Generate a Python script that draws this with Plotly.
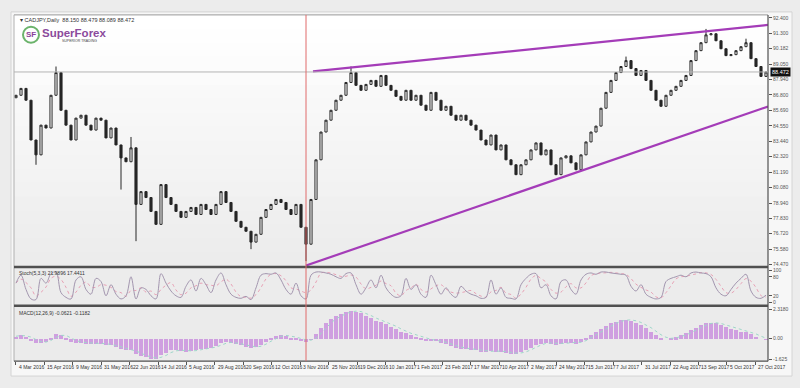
import numpy as np
import pandas as pd
import plotly.graph_objects as go

W, H = 800, 388

header_text = "▾ CADJPY,Daily  88.150 88.479 88.089 88.472"
stoch_label = "Stoch(5,3,3) 21.9896 17.4411"
macd_label = "MACD(12,26,9) -0.0621 -0.1182"
last_price = 88.472

# closes sampled along the chart (one candle per ~3 daily bars)
closes = [86.78, 87.28, 86.42, 83.53, 82.45, 84.61, 84.40, 86.78, 88.43, 85.69,
          84.61, 83.53, 85.12, 85.33, 84.61, 84.25, 85.12, 84.97, 83.68, 84.40,
          83.17, 82.23, 81.95, 82.96, 78.85, 79.78, 79.35, 78.34, 77.40, 80.29,
          79.35, 78.85, 78.34, 77.91, 78.34, 78.63, 78.12, 78.85, 78.48, 78.12,
          78.85, 79.78, 78.99, 78.34, 77.62, 77.19, 76.90, 76.11, 76.68, 77.91,
          78.48, 78.85, 79.21, 78.99, 78.48, 78.12, 78.85, 77.19, 75.96, 79.21,
          82.09, 84.11, 84.97, 85.69, 86.42, 86.78, 87.71, 88.43, 87.50, 87.14,
          87.57, 87.86, 87.43, 88.22, 87.50, 87.14, 86.70, 86.42, 87.14, 86.42,
          86.78, 86.06, 85.69, 86.99, 86.42, 85.69, 85.98, 85.33, 84.97, 85.33,
          84.97, 84.61, 84.25, 83.53, 83.17, 83.89, 82.81, 83.17, 82.09, 81.73,
          81.01, 81.73, 82.09, 82.81, 83.32, 82.45, 82.81, 81.73, 81.01, 82.23,
          82.38, 81.87, 81.37, 82.45, 83.39, 84.11, 84.54, 85.84, 86.99, 87.86,
          88.43, 88.87, 89.30, 88.72, 88.22, 88.58, 87.86, 87.14, 86.42, 85.98,
          86.78, 87.14, 87.43, 87.86, 88.22, 89.30, 90.02, 90.60, 91.17, 91.25,
          90.74, 90.16, 89.66, 89.73, 90.02, 90.31, 90.60, 89.44, 88.87, 88.15,
          88.47]
first_open = 86.60

# notable wick extremes (candle index -> price)
spike_high = {8: 88.87, 23: 83.75, 67: 88.87, 122: 89.59, 138: 91.60, 146: 90.89}
spike_low = {4: 81.73, 21: 79.93, 24: 76.18, 47: 75.60, 58: 74.73}

stoch = [60, 85, 40, 10, 8, 75, 60, 90, 95, 30,
         15, 10, 70, 80, 40, 25, 75, 65, 20, 55,
         25, 10, 20, 80, 10, 45, 40, 20, 10, 90,
         60, 35, 20, 15, 50, 70, 35, 75, 55, 30,
         70, 92, 55, 25, 15, 12, 18, 8, 45, 85,
         90, 88, 92, 70, 40, 25, 60, 20, 10, 85,
         95, 95, 92, 88, 80, 75, 90, 92, 55, 25,
         45, 70, 45, 85, 45, 25, 15, 20, 75, 40,
         55, 25, 15, 85, 55, 25, 45, 25, 15, 50,
         35, 25, 20, 12, 15, 70, 25, 45, 15, 12,
         10, 55, 75, 88, 90, 45, 55, 20, 10, 65,
         70, 40, 25, 70, 88, 92, 88, 95, 95, 92,
         90, 88, 85, 50, 35, 55, 25, 15, 10, 15,
         65, 75, 80, 85, 80, 92, 95, 92, 90, 80,
         45, 25, 20, 40, 60, 75, 88, 35, 15, 12,
         22]

macd = [0.2, 0.3, 0.2, -0.1, -0.3, -0.3, -0.2, 0.1, 0.4, 0.3,
        0.1, -0.2, -0.3, -0.3, -0.35, -0.4, -0.35, -0.35, -0.5, -0.5,
        -0.6, -0.8, -0.9, -0.85, -1.2, -1.35, -1.45, -1.55, -1.6, -1.3,
        -1.1, -0.9, -0.9, -0.95, -1.0, -0.95, -0.9, -0.8, -0.75, -0.7,
        -0.55, -0.3, -0.25, -0.3, -0.4, -0.5, -0.6, -0.7, -0.65, -0.45,
        -0.2, 0.05, 0.25, 0.3, 0.25, 0.1, 0.05, -0.1, -0.2, -0.05,
        0.4, 0.9, 1.3, 1.6, 1.85, 2.0, 2.15, 2.25, 2.2, 2.05,
        1.85, 1.65, 1.45, 1.35, 1.2, 1.0, 0.8, 0.55, 0.45, 0.3,
        0.2, 0.05, -0.1, -0.1, -0.15, -0.3, -0.4, -0.55, -0.7, -0.75,
        -0.8, -0.85, -0.9, -1.0, -1.05, -0.95, -1.0, -1.0, -1.1, -1.15,
        -1.2, -1.05, -0.9, -0.7, -0.45, -0.35, -0.3, -0.35, -0.45, -0.35,
        -0.3, -0.3, -0.35, -0.2, 0.1, 0.35, 0.55, 0.8, 1.05, 1.25,
        1.4, 1.5, 1.55, 1.45, 1.3, 1.15, 0.9, 0.6, 0.3, 0.05,
        0.0, 0.05, 0.15, 0.3, 0.45, 0.7, 0.9, 1.1, 1.25, 1.3,
        1.25, 1.1, 0.95, 0.8, 0.7, 0.6, 0.55, 0.4, 0.2, 0.0,
        -0.06]

date_labels = ["4 Mar 2016", "15 Apr 2016", "9 May 2016", "31 May 2016", "22 Jun 2016",
               "14 Jul 2016", "5 Aug 2016", "29 Aug 2016", "20 Sep 2016", "12 Oct 2016",
               "3 Nov 2016", "25 Nov 2016", "19 Dec 2016", "10 Jan 2017", "1 Feb 2017",
               "23 Feb 2017", "17 Mar 2017", "10 Apr 2017", "2 May 2017", "24 May 2017",
               "15 Jun 2017", "7 Jul 2017", "31 Jul 2017", "22 Aug 2017", "13 Sep 2017",
               "5 Oct 2017", "27 Oct 2017"]
DAYS_PER_CANDLE = 2.8125
DAYS_PER_LABEL = 16

price_ticks = [92.400, 91.300, 90.182, 89.050, 87.940, 86.800, 85.690, 84.550, 83.440,
               82.320, 81.190, 80.080, 78.940, 77.830, 76.720, 75.580, 74.470]
stoch_ticks = [100, 80, 20, 0]
macd_ticks = [2.318, 0.0, -1.625]
macd_ticktext = ["2.3180", "0.00", "-1.625"]

# trend channel anchors (candle index, price)
upper_x, upper_y = [59.4, 150.4], [88.51, 91.89]
lower_x, lower_y = [58.0, 150.4], [74.41, 85.96]
marker_candle = 58  # vertical marker (3 Nov 2016)

# ---------------------------------------------------------------
n = len(closes)
xs = np.arange(n)
opens = [first_open] + closes[:-1]
highs = [max(o, c) for o, c in zip(opens, closes)]
lows = [min(o, c) for o, c in zip(opens, closes)]
for i, v in spike_high.items():
    highs[i] = max(highs[i], v)
for i, v in spike_low.items():
    lows[i] = min(lows[i], v)
stoch_sig = pd.Series(stoch).rolling(3, min_periods=1).mean()
macd_sig = pd.Series(macd).rolling(3, min_periods=1).mean()

XR = [-0.4, 150.4]
def px(x):
    return x / W
def py(y):
    return 1 - y / H

XD = [px(14), px(768)]
FONT = "Liberation Sans, Arial, sans-serif"

fig = go.Figure()
fig.add_trace(go.Candlestick(
    x=xs, open=opens, high=highs, low=lows, close=closes,
    increasing=dict(line=dict(color="#262626", width=1), fillcolor="#ffffff"),
    decreasing=dict(line=dict(color="#262626", width=1), fillcolor="#262626"),
    whiskerwidth=0, showlegend=False, hoverinfo="skip", xaxis="x", yaxis="y"))
fig.add_trace(go.Scatter(x=upper_x, y=upper_y, mode="lines",
                         line=dict(color="#a43cb8", width=2.2), showlegend=False,
                         xaxis="x", yaxis="y"))
fig.add_trace(go.Scatter(x=lower_x, y=lower_y, mode="lines",
                         line=dict(color="#a43cb8", width=2.2), showlegend=False,
                         xaxis="x", yaxis="y"))
# stochastic
fig.add_trace(go.Scatter(x=xs, y=stoch_sig, mode="lines",
                         line=dict(color="#e7a0b4", width=1, dash="dot", shape="spline"),
                         showlegend=False, xaxis="x2", yaxis="y2"))
fig.add_trace(go.Scatter(x=xs, y=stoch, mode="lines",
                         line=dict(color="#a295ae", width=1, shape="spline"),
                         showlegend=False, xaxis="x2", yaxis="y2"))
# macd
fig.add_trace(go.Bar(x=xs, y=macd, width=0.7, marker=dict(color="#cf9fe0", line=dict(width=0)),
                     showlegend=False, xaxis="x3", yaxis="y3"))
fig.add_trace(go.Scatter(x=xs, y=macd_sig, mode="lines",
                         line=dict(color="#9fd6c9", width=1, dash="dot"),
                         showlegend=False, xaxis="x3", yaxis="y3"))

shapes = []
# outer frame
shapes.append(dict(type="rect", xref="paper", yref="paper", x0=px(11), x1=px(792),
                   y0=py(378), y1=py(11), fillcolor="#f7f7f7",
                   line=dict(color="#d4d4d4", width=1), layer="below"))
# gradient in main panel
steps = 18
for k in range(steps):
    t = k / (steps - 1)
    c = int(round(255 - 19 * t))
    y0 = 14 + (267 - 14) * k / steps
    y1 = 14 + (267 - 14) * (k + 1) / steps
    shapes.append(dict(type="rect", xref="paper", yref="paper", x0=px(14), x1=px(768),
                       y0=py(y1 + 0.5), y1=py(y0), fillcolor=f"rgb({c},{c},{c})",
                       line=dict(width=0), layer="below"))
shapes.append(dict(type="rect", xref="paper", yref="paper", x0=px(14), x1=px(768),
                   y0=py(306), y1=py(268), fillcolor="#ececec", line=dict(width=0), layer="below"))
shapes.append(dict(type="rect", xref="paper", yref="paper", x0=px(14), x1=px(768),
                   y0=py(363), y1=py(307), fillcolor="#ebebeb", line=dict(width=0), layer="below"))
# borders / separators
shapes.append(dict(type="line", xref="paper", yref="paper", x0=px(14), x1=px(768),
                   y0=py(14), y1=py(14), line=dict(color="#9a9a9a", width=1)))
shapes.append(dict(type="line", xref="paper", yref="paper", x0=px(14), x1=px(14),
                   y0=py(363), y1=py(14), line=dict(color="#b0b0b0", width=1)))
for yy in (268, 307):
    shapes.append(dict(type="line", xref="paper", yref="paper", x0=px(14), x1=px(768),
                       y0=py(yy), y1=py(yy), line=dict(color="#505050", width=2.5)))
shapes.append(dict(type="line", xref="paper", yref="paper", x0=px(14), x1=px(768),
                   y0=py(363), y1=py(363), line=dict(color="#505050", width=1.2)))
shapes.append(dict(type="line", xref="paper", yref="paper", x0=px(768), x1=px(768),
                   y0=py(363), y1=py(14), line=dict(color="#505050", width=1.2)))
# last price line
shapes.append(dict(type="line", xref="x", yref="y", x0=XR[0], x1=XR[1],
                   y0=last_price, y1=last_price, line=dict(color="#b4b4b4", width=1)))
# vertical marker
shapes.append(dict(type="line", xref="x", yref="paper", x0=marker_candle, x1=marker_candle,
                   y0=py(363), y1=py(14), line=dict(color="#e06a6a", width=1)))
# logo circle
shapes.append(dict(type="circle", xref="paper", yref="paper", x0=px(23), x1=px(39),
                   y0=py(42), y1=py(26), line=dict(color="#6bb36b", width=2)))

annotations = []
def ann(text, x, y, size, color="#333", xanchor="left", **kw):
    annotations.append(dict(text=text, x=px(x), y=py(y), xref="paper", yref="paper",
                            xanchor=xanchor, yanchor="middle", showarrow=False,
                            font=dict(family=FONT, size=size, color=color), **kw))

ann(header_text, 18, 19, 5.5, "#333")
ann("<b>SF</b>", 31, 34, 8, "#8a3f9a", xanchor="center")
ann("<b>SuperForex</b>", 40, 32.5, 11.5, "#8b4a9c")
ann("SUPERIOR TRADING", 60, 40.5, 3.5, "#444")
ann(stoch_label, 17, 274, 5, "#333")
ann(macd_label, 17, 314, 5, "#333")

tick_pos = [(1 + DAYS_PER_LABEL * k) / DAYS_PER_CANDLE - 0.4 for k in range(len(date_labels))]
for pos, lab in zip(tick_pos, date_labels):
    annotations.append(dict(text=lab, x=pos, y=py(368.5), xref="x3", yref="paper",
                            xanchor="left", yanchor="middle", xshift=1, showarrow=False,
                            font=dict(family=FONT, size=5, color="#333")))
annotations.append(dict(text=f"{last_price:.3f}", x=px(769.5), y=last_price, xref="paper",
                        yref="y", xanchor="left", yanchor="middle", showarrow=False,
                        bgcolor="#111111", borderpad=1,
                        font=dict(family=FONT, size=5.5, color="#ffffff")))

axis_common = dict(showgrid=False, zeroline=False, showline=False, domain=XD, range=XR)
ytick_font = dict(family=FONT, size=5, color="#555")

fig.update_layout(
    width=W, height=H, margin=dict(l=0, r=0, t=0, b=0),
    paper_bgcolor="#ececec", plot_bgcolor="rgba(0,0,0,0)",
    showlegend=False, bargap=0, boxgap=0.4,
    xaxis=dict(**axis_common, anchor="y", showticklabels=False, rangeslider=dict(visible=False)),
    xaxis2=dict(**axis_common, anchor="y2", showticklabels=False, matches="x"),
    xaxis3=dict(**axis_common, anchor="y3", showticklabels=False, matches="x",
                tickmode="array", tickvals=tick_pos, ticks="outside", ticklen=3,
                tickcolor="#555", tickwidth=1),
    yaxis=dict(domain=[py(267), py(14)], range=[74.38, 92.62], side="right", anchor="x",
               tickmode="array", tickvals=price_ticks,
               ticktext=[f"{v:.3f}" for v in price_ticks], ticks="outside", ticklen=3,
               tickcolor="#555", tickfont=ytick_font, showgrid=False, zeroline=False),
    yaxis2=dict(domain=[py(306), py(269)], range=[-8, 108], side="right", anchor="x2",
                tickmode="array", tickvals=stoch_ticks, ticks="outside", ticklen=3,
                tickcolor="#555", tickfont=ytick_font, showgrid=False, zeroline=False),
    yaxis3=dict(domain=[py(363), py(308)], range=[-1.79, 2.56], side="right", anchor="x3",
                tickmode="array", tickvals=macd_ticks, ticktext=macd_ticktext,
                ticks="outside", ticklen=3, tickcolor="#555", tickfont=ytick_font,
                showgrid=False, zeroline=False),
    shapes=shapes, annotations=annotations,
)

fig.write_html("out.html", config={"displayModeBar": False})
